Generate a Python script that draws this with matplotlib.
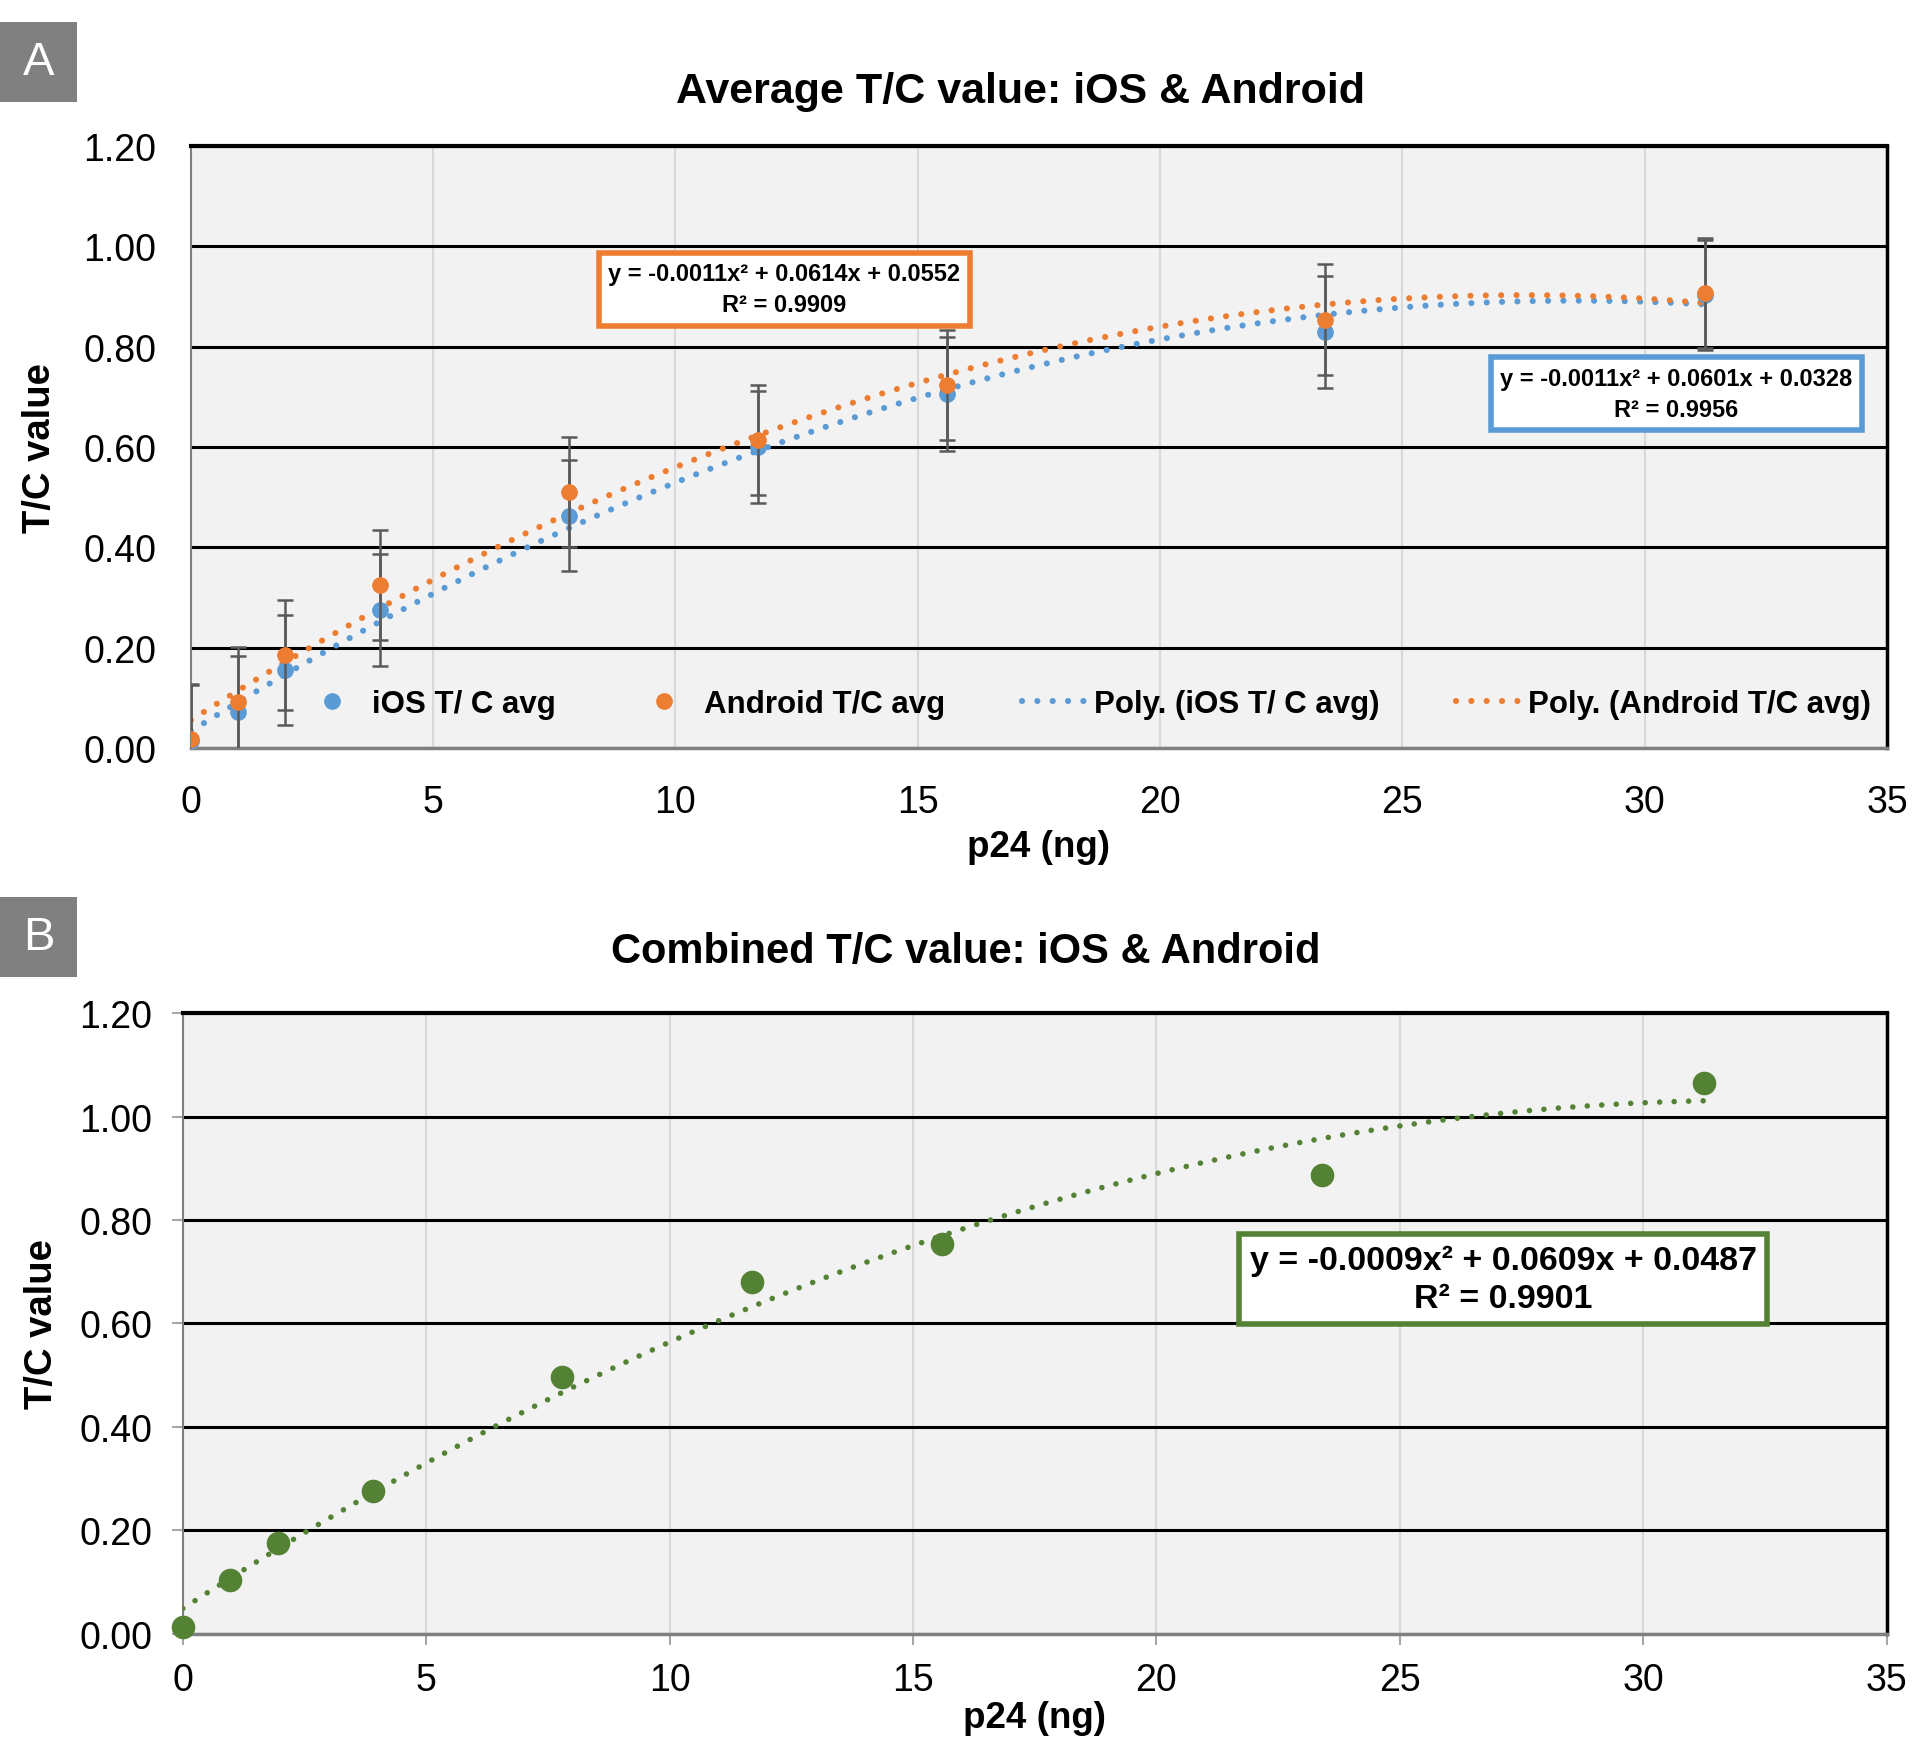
import numpy as np
import matplotlib
matplotlib.use("Agg")
import matplotlib.pyplot as plt
from matplotlib.lines import Line2D

plt.rcParams['font.family'] = ['Liberation Sans', 'DejaVu Sans']

# ---- data ----
p24 = [0, 0.98, 1.95, 3.9, 7.8, 11.7, 15.6, 23.4, 31.25]
ios_avg = [0.015, 0.071, 0.156, 0.275, 0.463, 0.600, 0.706, 0.829, 0.903]
android_avg = [0.018, 0.091, 0.185, 0.325, 0.510, 0.614, 0.724, 0.854, 0.907]
ios_err = [0.11, 0.112, 0.11, 0.112, 0.111, 0.112, 0.113, 0.112, 0.11]
android_err = [0.11, 0.11, 0.11, 0.11, 0.11, 0.11, 0.11, 0.11, 0.11]
combined = [0.0135, 0.103, 0.176, 0.276, 0.496, 0.680, 0.753, 0.887, 1.066]

title_a = "Average T/C value: iOS & Android"
title_b = "Combined T/C value: iOS & Android"
eq_ios = "y = -0.0011x\u00b2 + 0.0601x + 0.0328\nR\u00b2 = 0.9956"
eq_android = "y = -0.0011x\u00b2 + 0.0614x + 0.0552\nR\u00b2 = 0.9909"
eq_combined = "y = -0.0009x\u00b2 + 0.0609x + 0.0487\nR\u00b2 = 0.9901"
y_ticks = [0, 0.2, 0.4, 0.6, 0.8, 1.0, 1.2]
x_ticks = [0, 5, 10, 15, 20, 25, 30, 35]

BLUE = "#5B9BD5"
ORANGE = "#ED7D31"
GREEN = "#548235"
BG = "#F2F2F2"

fig = plt.figure(figsize=(19.22, 17.4), dpi=100)
axA = fig.add_axes([0.0993, 0.5695, 0.8825, 0.346])
axB = fig.add_axes([0.0951, 0.0605, 0.8865, 0.3566])


def style_axes(ax, xpad, ypad, tick_len):
    ax.set_facecolor(BG)
    ax.set_xlim(0, 35)
    ax.set_ylim(0, 1.2)
    ax.set_xticks(x_ticks)
    ax.set_yticks(y_ticks)
    ax.set_yticklabels([f"{v:.2f}" for v in y_ticks])
    ax.grid(axis='y', color='black', lw=2.2, zorder=0)
    ax.grid(axis='x', color='#D9D9D9', lw=1.5, zorder=0)
    ax.set_axisbelow(True)
    ax.tick_params(axis='both', labelsize=27, length=tick_len, color='#A6A6A6', width=1.5)
    ax.tick_params(axis='x', pad=xpad)
    ax.tick_params(axis='y', pad=ypad)
    ax.spines['top'].set_color('black')
    ax.spines['top'].set_linewidth(3)
    ax.spines['right'].set_color('black')
    ax.spines['right'].set_linewidth(2.5)
    ax.spines['left'].set_color('#808080')
    ax.spines['left'].set_linewidth(1.5)
    ax.spines['bottom'].set_color('#808080')
    ax.spines['bottom'].set_linewidth(2.5)


def trend(x, y):
    c = np.polyfit(x, y, 2)
    xs = np.linspace(min(x), max(x), 300)
    return xs, np.polyval(c, xs)


DOT = (0, (0.01, 2.5))

# ---- Panel A ----
style_axes(axA, xpad=26, ypad=25, tick_len=0)
xs, ys = trend(p24, ios_avg)
axA.plot(xs, ys, color=BLUE, lw=4.4, linestyle=DOT, dash_capstyle='round', zorder=3)
xs, ys = trend(p24, android_avg)
axA.plot(xs, ys, color=ORANGE, lw=4.4, linestyle=DOT, dash_capstyle='round', zorder=3)
axA.errorbar(p24, ios_avg, yerr=ios_err, fmt='o', color=BLUE, ms=11, ecolor='#595959',
             elinewidth=1.8, capsize=6, capthick=1.8, zorder=4)
axA.errorbar(p24, android_avg, yerr=android_err, fmt='o', color=ORANGE, ms=11, ecolor='#595959',
             elinewidth=1.8, capsize=6, capthick=1.8, zorder=5)
fig.text(0.5307, 1 - 92 / 1740, title_a, ha='center', va='center', fontsize=31, fontweight='bold')
axA.set_xlabel("p24 (ng)", fontsize=26.5, fontweight='bold', labelpad=6)
axA.set_ylabel("T/C value", fontsize=27.5, fontweight='bold', labelpad=18)

handles = [
    Line2D([], [], marker='o', color=BLUE, ls='none', ms=11),
    Line2D([], [], marker='o', color=ORANGE, ls='none', ms=11),
    Line2D([], [], color=BLUE, lw=4.4, ls=DOT, dash_capstyle='round'),
    Line2D([], [], color=ORANGE, lw=4.4, ls=DOT, dash_capstyle='round'),
]
labels = ["iOS T/ C avg", "Android T/C avg", "Poly. (iOS T/ C avg)", "Poly. (Android T/C avg)"]
axA.legend(handles, labels, loc='center', bbox_to_anchor=(0.5275, 0.073), ncol=4,
           frameon=False, prop={'weight': 'bold', 'size': 22.5}, columnspacing=2.45,
           handlelength=2.0, handletextpad=0.3)

axA.text(12.24, 0.915, eq_android, ha='center', va='center', fontsize=17, fontweight='bold',
         linespacing=1.45, zorder=6,
         bbox=dict(boxstyle='square,pad=0.4', fc='white', ec=ORANGE, lw=4))
axA.text(30.65, 0.706, eq_ios, ha='center', va='center', fontsize=17, fontweight='bold',
         linespacing=1.45, zorder=6,
         bbox=dict(boxstyle='square,pad=0.4', fc='white', ec=BLUE, lw=4))

# ---- Panel B ----
style_axes(axB, xpad=12, ypad=14, tick_len=8)
xs, ys = trend(p24, combined)
axB.plot(xs, ys, color=GREEN, lw=4.0, linestyle=(0, (0.01, 2.6)), dash_capstyle='round', zorder=3)
axB.plot(p24, combined, 'o', color=GREEN, ms=16, zorder=4, clip_on=False)
fig.text(0.5026, 1 - 952 / 1740, title_b, ha='center', va='center', fontsize=30, fontweight='bold')
axB.set_xlabel("p24 (ng)", fontsize=26.5, fontweight='bold', labelpad=2)
axB.set_ylabel("T/C value", fontsize=27.5, fontweight='bold', labelpad=14)
axB.text(27.12, 0.686, eq_combined, ha='center', va='center', fontsize=24.5, fontweight='bold',
         linespacing=1.3, zorder=6,
         bbox=dict(boxstyle='square,pad=0.3', fc='white', ec=GREEN, lw=4))

# ---- panel letters ----
for letter, y0 in (("A", 1 - 103 / 1740), ("B", 1 - 978 / 1740)):
    fig.patches.append(plt.Rectangle((0, y0), 77 / 1922, 80 / 1740, transform=fig.transFigure,
                                     facecolor='#808080', edgecolor='none'))
    fig.text(38.5 / 1922, y0 + 40 / 1740, letter, ha='center', va='center', color='white',
             fontsize=34)

fig.savefig("out.png", dpi=100)
